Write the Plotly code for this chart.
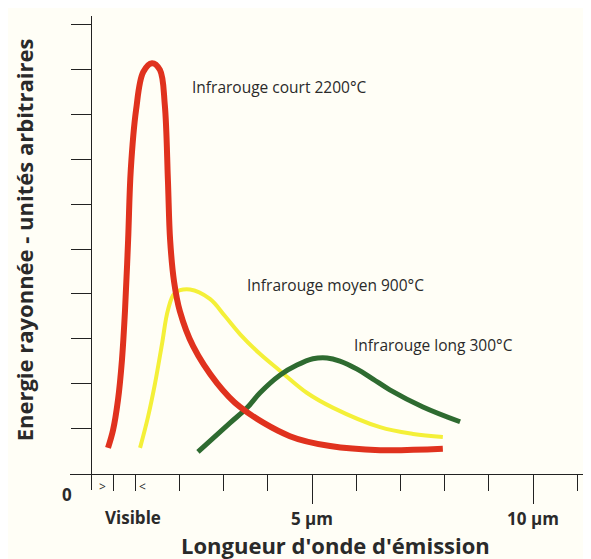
import plotly.graph_objects as go

# Data (wavelength in µm, energy in arbitrary units)
court_x = [0.385, 0.50, 0.61, 0.70, 0.77, 0.84, 0.90, 1.02, 1.18, 1.38, 1.56, 1.67, 1.74, 1.79, 1.88, 2.01, 2.31, 2.85, 3.37, 4.50, 5.41, 6.54, 7.96]
court_y = [0.58, 0.98, 1.64, 2.53, 3.64, 5.20, 6.76, 8.09, 8.93, 9.13, 8.98, 8.20, 6.53, 5.20, 4.27, 3.62, 2.84, 2.02, 1.49, 0.84, 0.62, 0.53, 0.56]

moyen_x = [1.11, 1.29, 1.45, 1.61, 1.74, 1.90, 2.24, 2.69, 3.03, 3.37, 3.82, 4.28, 4.89, 5.48, 6.54, 7.29, 7.96]
moyen_y = [0.58, 1.27, 2.02, 2.91, 3.64, 4.02, 4.10, 3.89, 3.51, 3.11, 2.67, 2.29, 1.80, 1.47, 1.04, 0.89, 0.82]

long_x = [2.42, 3.14, 3.53, 3.82, 4.28, 4.66, 5.02, 5.34, 5.63, 6.02, 6.38, 6.76, 7.51, 8.35]
long_y = [0.49, 1.13, 1.47, 1.80, 2.20, 2.42, 2.56, 2.58, 2.51, 2.33, 2.11, 1.87, 1.49, 1.16]

series_names = ["Infrarouge court 2200°C", "Infrarouge moyen 900°C", "Infrarouge long 300°C"]
label_pos_x = [2.24, 3.48, 5.9]
label_pos_y = [8.6, 4.2, 2.87]

major_ticks = [5, 10]
major_labels = ["5 \u00b5m", "10 \u00b5m"]
minor_ticks = [0.5, 1, 2, 3, 4, 6, 7, 8, 9, 11]
y_ticks = [1, 2, 3, 4, 5, 6, 7, 8, 9, 10]

FONT = "Open Sans"
TXT = "#2a2a2a"

fig = go.Figure()
fig.add_trace(go.Scatter(x=moyen_x, y=moyen_y, mode="lines",
                         line=dict(color="#f4f038", width=4, shape="spline", smoothing=1.0),
                         name=series_names[1], showlegend=False, hoverinfo="skip"))
fig.add_trace(go.Scatter(x=long_x, y=long_y, mode="lines",
                         line=dict(color="#2e6b30", width=5, shape="spline", smoothing=1.0),
                         name=series_names[2], showlegend=False, hoverinfo="skip"))
fig.add_trace(go.Scatter(x=court_x, y=court_y, mode="lines",
                         line=dict(color="#e0321e", width=6, shape="spline", smoothing=1.0),
                         name=series_names[0], showlegend=False, hoverinfo="skip"))

for name, lx, ly in zip(series_names, label_pos_x, label_pos_y):
    fig.add_annotation(x=lx, y=ly, xref="x", yref="y", text=name, showarrow=False,
                       xanchor="left", yanchor="middle",
                       font=dict(family=FONT, size=15.5, color=TXT))


def paper_text(x, y, text, size, angle=0):
    fig.add_annotation(x=x, y=y, xref="paper", yref="paper", text=text, showarrow=False,
                       xanchor="center", yanchor="middle", textangle=angle,
                       font=dict(family=FONT, size=size, color=TXT))


# small texts around the axes
paper_text(-0.006, -0.0105, "<b>0</b>", 17)
paper_text(0.121, -0.059, "<b>Visible</b>", 17)
paper_text(0.063, 0.008, ">", 12)
paper_text(0.140, 0.008, "<", 12)

# axis titles
paper_text(0.509, -0.116, "<b>Longueur d'onde d'émission</b>", 22)
paper_text(-0.088, 0.527, "<b>Energie rayonnée - unités arbitraires</b>", 22, angle=-90)

fig.update_layout(
    width=583, height=551,
    margin=dict(l=62, r=0, t=8, b=69, autoexpand=False),
    paper_bgcolor="#fffef6", plot_bgcolor="#fffef6",
    xaxis=dict(range=[-0.475, 11.312], anchor="free", position=0.0338, automargin=False,
               showgrid=False, zeroline=False, showline=True, linecolor="#222", linewidth=1.3,
               tickmode="array", tickvals=major_ticks, ticktext=major_labels,
               ticks="outside", ticklen=29, tickwidth=1.3, tickcolor="#222",
               tickfont=dict(family=FONT, size=17, color=TXT, weight="bold"),
               minor=dict(tickmode="array", tickvals=minor_ticks, ticks="outside",
                          ticklen=16, tickwidth=1.3, tickcolor="#222")),
    yaxis=dict(range=[-0.356, 10.178], anchor="free", position=0.0403, automargin=False,
               showgrid=False, zeroline=False, showline=True, linecolor="#222", linewidth=1.3,
               tickmode="array", tickvals=y_ticks, showticklabels=False,
               ticks="outside", ticklen=20, tickwidth=1.3, tickcolor="#222"),
)

fig.write_html("out.html")
